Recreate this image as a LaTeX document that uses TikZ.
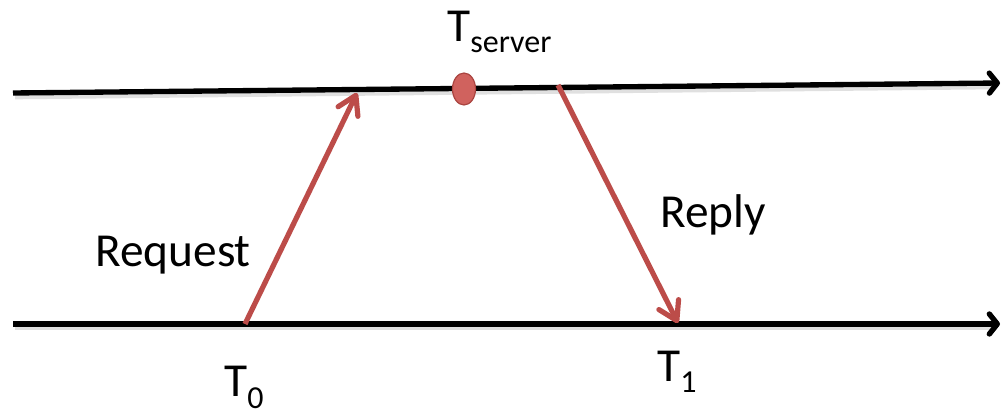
\documentclass[tikz,border=0pt]{standalone}
\usepackage{fontspec}
\setmainfont{Carlito}
\usetikzlibrary{arrows.meta,shapes.geometric}
\newlength\pxu
\setlength\pxu{0.75pt}
\definecolor{msgred}{RGB}{188,76,73}
\definecolor{evfill}{RGB}{208,98,94}
\definecolor{evline}{RGB}{170,68,64}
\tikzset{
  timeline/.style={line width=4pt, black, -{Straight Barb[length=6pt, width=15pt, line cap=round, line join=round]}},
  lineshadow/.style={line width=4.5pt, black, opacity=0.12},
  message/.style={line width=3.9pt, msgred, -{Straight Barb[length=13.5pt, width=16.5pt, line cap=round, line join=round]}},
  label/.style={inner sep=0pt, anchor=base west, font=\fontsize{35.5pt}{39pt}\selectfont},
  event/.style={ellipse, draw=evline, fill=evfill, line width=0.9pt, minimum width=17.25pt, minimum height=24pt, inner sep=0pt}
}
\newcommand{\subtxt}[2]{\raisebox{-#1\pxu}{\fontsize{24pt}{27pt}\selectfont #2}}
\begin{document}
\begin{tikzpicture}[x=0.75pt, y=-0.75pt]
  \useasboundingbox (0,0) rectangle (1001,413);
  % end points of the two time lines and the two messages
  \coordinate (topL) at (13,93);
  \coordinate (topR) at (1000,83);
  \coordinate (botL) at (13,324);
  \coordinate (botR) at (1000,324);
  \coordinate (reqS) at (245,324);
  \coordinate (reqE) at (357,93);
  \coordinate (repS) at (558,85);
  \coordinate (repE) at (678,323);
  % soft shadows under the time lines
  \draw[lineshadow] ([xshift=1.5pt,yshift=-2.5pt]topL) -- ([xshift=-6pt,yshift=-2.5pt]topR);
  \draw[lineshadow] ([xshift=1.5pt,yshift=-2.5pt]botL) -- ([xshift=-6pt,yshift=-2.5pt]botR);
  % server and client time lines
  \draw[timeline] (topL) -- (topR);
  \draw[timeline] (botL) -- (botR);
  % request and reply messages
  \draw[message] (reqS) -- (reqE);
  \draw[message] (repS) -- (repE);
  % server timestamp event
  \node[event] (ev) at (464,89) {};
  % labels
  \node[label] (tsrv) at (447,42) {T\subtxt{11}{server}};
  \node[label] (t0) at (224,397) {T\subtxt{12}{0}};
  \node[label] (t1) at (657,382) {T\subtxt{11}{1}};
  \node[label] (req) at (95,267) {Request};
  \node[label] (rep) at (660,228) {Reply};
\end{tikzpicture}
\end{document}
